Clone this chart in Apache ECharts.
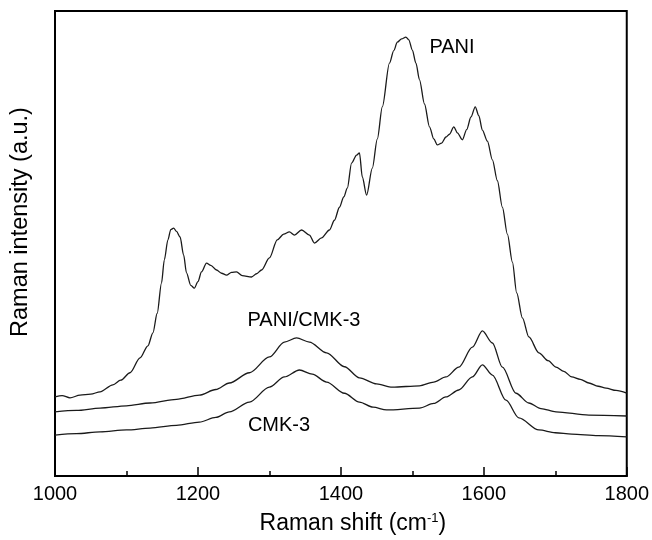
<!DOCTYPE html>
<html>
<head>
<meta charset="utf-8">
<script src="https://cdn.jsdelivr.net/npm/echarts@6/dist/echarts.min.js"></script>
<style>
  html, body { margin: 0; padding: 0; background: #fff; }
  #chart { width: 652px; height: 540px; }
</style>
</head>
<body>
<div id="chart"></div>
<script>
// Raman spectra, intensity in arbitrary units (0-100 of the plot height)
var paniShift = [1000, 1010, 1021, 1035, 1050, 1063, 1081, 1092, 1105, 1119, 1130, 1137, 1143, 1149, 1153, 1158, 1162,
  1166, 1170, 1175, 1180, 1184, 1190, 1195, 1200, 1205, 1212, 1218, 1226, 1233, 1240, 1247, 1254, 1262,
  1275, 1282, 1289, 1300, 1311, 1320, 1328, 1335, 1345, 1356, 1363, 1373, 1384, 1391, 1398, 1404, 1409,
  1415, 1422, 1426, 1430, 1436, 1444, 1451, 1458, 1468, 1474, 1479, 1485, 1491, 1495, 1500, 1505, 1510,
  1517, 1524, 1530, 1535, 1541, 1547, 1552, 1558, 1563, 1570, 1576, 1582, 1588, 1593, 1598, 1605, 1612,
  1619, 1626, 1633, 1640, 1646, 1654, 1663, 1677, 1690, 1701, 1712, 1723, 1735, 1747, 1760, 1771, 1785, 1800]
var paniIntensity = [17.0, 17.3, 16.8, 17.4, 17.6, 18.1, 19.6, 20.6, 22.2, 25.4, 28.0, 30.8, 35.0, 41.5, 46.5, 50.8, 53.0,
  53.3, 52.6, 51.4, 47.5, 43.7, 41.0, 40.4, 41.8, 43.9, 45.8, 45.3, 44.3, 43.6, 43.2, 43.8, 43.9, 43.1,
  42.8, 43.5, 44.3, 46.9, 50.8, 52.0, 52.5, 51.8, 52.9, 51.8, 50.1, 51.2, 52.9, 55.0, 57.8, 60.0, 61.9,
  67.3, 69.0, 69.5, 64.3, 60.4, 66.2, 72.5, 79.4, 88.8, 91.5, 93.3, 94.0, 94.4, 93.8, 91.6, 88.8, 85.2,
  80.0, 75.1, 72.5, 71.2, 71.6, 72.9, 73.5, 75.1, 73.8, 72.3, 74.5, 77.2, 79.4, 77.5, 74.4, 72.0, 68.0,
  63.5, 57.8, 52.0, 46.0, 39.4, 34.0, 29.9, 26.5, 24.8, 23.4, 22.5, 21.3, 20.8, 20.0, 19.3, 18.9, 18.4, 17.8]

var compositeShift = [1000, 1030, 1063, 1100, 1133, 1170, 1202, 1225, 1244, 1272, 1300, 1321, 1338, 1356, 1380, 1405,
  1426, 1450, 1472, 1510, 1530, 1547, 1565, 1584, 1598, 1612, 1626, 1645, 1663, 1680, 1701, 1747, 1800]
var compositeIntensity = [13.8, 14.1, 14.6, 15.1, 15.7, 16.5, 17.4, 18.6, 20.0, 22.2, 25.6, 28.8, 29.7, 28.8, 26.5, 23.5,
  21.1, 19.8, 19.1, 19.4, 20.2, 21.3, 23.4, 27.7, 31.2, 28.6, 23.4, 17.8, 15.7, 14.5, 13.8, 13.1, 12.9]

var cmkShift = [1000, 1030, 1063, 1100, 1133, 1170, 1202, 1225, 1244, 1272, 1300, 1321, 1342, 1360, 1380, 1405,
  1426, 1445, 1464, 1510, 1530, 1547, 1565, 1584, 1598, 1612, 1631, 1649, 1677, 1700, 1723, 1760, 1800]
var cmkIntensity = [8.8, 9.1, 9.5, 9.9, 10.3, 10.9, 11.6, 12.6, 13.8, 15.9, 19.1, 21.3, 22.8, 21.9, 20.2, 17.8,
  15.9, 14.8, 14.2, 14.6, 15.6, 17.0, 18.5, 21.3, 23.9, 21.7, 16.3, 12.5, 9.9, 9.3, 9.0, 8.7, 8.4]

var xTicks = [1000, 1200, 1400, 1600, 1800]

var fontName = 'Liberation Sans, Arial, sans-serif'

function toPairs (xs, ys) {
  return xs.map(function (x, i) { return [x, ys[i]] })
}

function spectrum (name, xs, ys) {
  return {
    name: name,
    type: 'line',
    showSymbol: false,
    smooth: 0.3,
    smoothMonotone: 'x',
    lineStyle: { color: '#1a1a1a', width: 1.3 },
    data: toPairs(xs, ys)
  }
}

var chart = echarts.init(document.getElementById('chart'))
chart.setOption({
  animation: false,
  grid: {
    left: 55,
    right: 24,
    top: 11,
    bottom: 64,
    show: true,
    borderColor: '#000',
    borderWidth: 2
  },
  xAxis: {
    type: 'value',
    min: xTicks[0],
    max: xTicks[xTicks.length - 1],
    interval: 200,
    name: 'Raman shift (cm{sup|-1})',
    nameLocation: 'middle',
    nameGap: 36,
    nameTextStyle: {
      color: '#000',
      fontSize: 23,
      fontFamily: fontName,
      padding: [0, 0, 0, 24],
      rich: {
        sup: { fontSize: 13, verticalAlign: 'top', padding: [0, 0, 10, 0], color: '#000', fontFamily: fontName }
      }
    },
    axisLine: { show: true, lineStyle: { color: '#000', width: 2 } },
    axisTick: { show: true, inside: true, length: 9, lineStyle: { color: '#000', width: 1.5 } },
    minorTick: { show: true, splitNumber: 2, length: 5, lineStyle: { color: '#000', width: 1.5 } },
    axisLabel: {
      color: '#000',
      fontSize: 20,
      fontFamily: fontName,
      margin: 8,
      formatter: function (v) { return String(v) }
    },
    splitLine: { show: false }
  },
  yAxis: {
    type: 'value',
    min: 0,
    max: 100,
    axisLine: { show: true, lineStyle: { color: '#000', width: 2 } },
    axisTick: { show: false },
    axisLabel: { show: false },
    splitLine: { show: false }
  },
  graphic: [
    {
      type: 'text',
      x: 21,
      y: 222,
      rotation: Math.PI / 2,
      style: {
        text: 'Raman intensity (a.u.)',
        fontSize: 23.5,
        fontFamily: fontName,
        fill: '#000',
        align: 'center',
        verticalAlign: 'middle'
      }
    },
    {
      type: 'text',
      x: 452,
      y: 47,
      style: { text: 'PANI', fontSize: 20, fontFamily: fontName, fill: '#000', align: 'center', verticalAlign: 'middle' }
    },
    {
      type: 'text',
      x: 304,
      y: 320,
      style: { text: 'PANI/CMK-3', fontSize: 20, fontFamily: fontName, fill: '#000', align: 'center', verticalAlign: 'middle' }
    },
    {
      type: 'text',
      x: 279,
      y: 425,
      style: { text: 'CMK-3', fontSize: 20, fontFamily: fontName, fill: '#000', align: 'center', verticalAlign: 'middle' }
    }
  ],
  series: [
    spectrum('PANI', paniShift, paniIntensity),
    spectrum('PANI/CMK-3', compositeShift, compositeIntensity),
    spectrum('CMK-3', cmkShift, cmkIntensity)
  ]
})
</script>
</body>
</html>
